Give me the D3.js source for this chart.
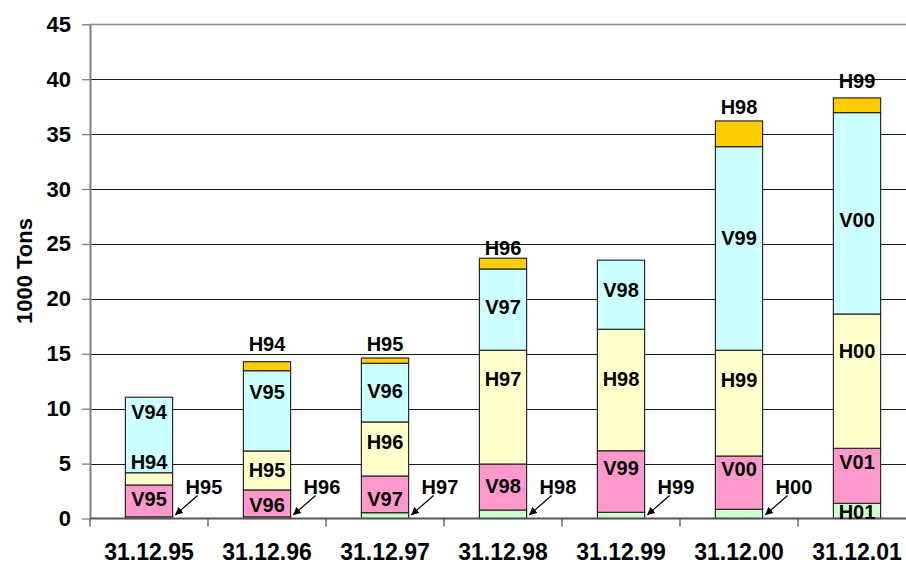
<!DOCTYPE html>
<html>
<head>
<meta charset="utf-8">
<script src="https://cdn.jsdelivr.net/npm/d3@7"></script>
<style>
    body { margin: 0; background: #fff; }
    svg { display: block; font-family: "Liberation Sans", Arial, sans-serif; font-weight: bold; }
</style>
</head>
<body>
<svg id="grafico" width="906" height="565"></svg>
<script>

// dates on the x axis
const categories = ["31.12.95", "31.12.96", "31.12.97", "31.12.98", "31.12.99", "31.12.00", "31.12.01"];

// stacked segments, bottom to top (1000 tons)
const greenH = [0.15, 0.15, 0.53, 0.77, 0.56, 0.84, 1.38];
const pinkV = [2.90, 2.45, 3.34, 4.19, 5.61, 4.85, 5.01];
const yellowH = [1.12, 3.55, 4.92, 10.36, 11.06, 9.63, 12.23];
const cyanV = [6.87, 7.31, 5.34, 7.40, 6.29, 18.54, 18.34];
const orangeH = [0, 0.82, 0.49, 0.98, 0, 2.34, 1.34];

const yTicks = [0, 5, 10, 15, 20, 25, 30, 35, 40, 45];

// text labels on the bars (value = height where the text sits)
const barLabels = [
    { cat: "31.12.95", v: 9.7, text: "V94" },
    { cat: "31.12.95", v: 5.1, text: "H94" },
    { cat: "31.12.95", v: 1.8, text: "V95" },
    { cat: "31.12.96", v: 15.9, text: "H94" },
    { cat: "31.12.96", v: 11.55, text: "V95" },
    { cat: "31.12.96", v: 4.4, text: "H95" },
    { cat: "31.12.96", v: 1.23, text: "V96" },
    { cat: "31.12.97", v: 15.9, text: "H95" },
    { cat: "31.12.97", v: 11.63, text: "V96" },
    { cat: "31.12.97", v: 6.97, text: "H96" },
    { cat: "31.12.97", v: 1.82, text: "V97" },
    { cat: "31.12.98", v: 24.65, text: "H96" },
    { cat: "31.12.98", v: 19.3, text: "V97" },
    { cat: "31.12.98", v: 12.7, text: "H97" },
    { cat: "31.12.98", v: 2.93, text: "V98" },
    { cat: "31.12.99", v: 20.8, text: "V98" },
    { cat: "31.12.99", v: 12.7, text: "H98" },
    { cat: "31.12.99", v: 4.57, text: "V99" },
    { cat: "31.12.00", v: 37.5, text: "H98" },
    { cat: "31.12.00", v: 25.5, text: "V99" },
    { cat: "31.12.00", v: 12.64, text: "H99" },
    { cat: "31.12.00", v: 4.5, text: "V00" },
    { cat: "31.12.01", v: 39.8, text: "H99" },
    { cat: "31.12.01", v: 27.2, text: "V00" },
    { cat: "31.12.01", v: 15.27, text: "H00" },
    { cat: "31.12.01", v: 5.15, text: "V01" },
    { cat: "31.12.01", v: 0.62, text: "H01" }
];

// labels with an arrow pointing to the thin bottom segment
const calloutCats = ["31.12.95", "31.12.96", "31.12.97", "31.12.98", "31.12.99", "31.12.00"];
const calloutTexts = ["H95", "H96", "H97", "H98", "H99", "H00"];

const seriesKeys = ["greenH", "pinkV", "yellowH", "cyanV", "orangeH"];
const colors = {
    greenH: "#ccffcc",
    pinkV: "#ff99cc",
    yellowH: "#ffffcc",
    cyanV: "#ccffff",
    orangeH: "#ffcc00"
};

const table = categories.map((c, i) => ({
    cat: c,
    greenH: greenH[i],
    pinkV: pinkV[i],
    yellowH: yellowH[i],
    cyanV: cyanV[i],
    orangeH: orangeH[i]
}));

desenharGrafico();

function desenharGrafico() {
    const svg = d3.select("#grafico");

    const xScale = d3.scaleBand()
        .domain(categories)
        .range([90, 916])
        .paddingInner(0.6)
        .paddingOuter(0.3);

    const yScale = d3.scaleLinear()
        .domain([0, 45])
        .range([518.5, 24.3]);

    // gridlines
    svg.append("g")
        .selectAll("line")
        .data(yTicks.filter(t => t > 0))
        .enter()
        .append("line")
        .attr("x1", 90)
        .attr("x2", 906)
        .attr("y1", d => Math.round(yScale(d)) + 0.5)
        .attr("y2", d => Math.round(yScale(d)) + 0.5)
        .attr("stroke", d => d === 45 ? "#8a8a8a" : "#1a1a1a")
        .attr("stroke-width", d => d === 45 ? 1.6 : 1);

    // stacked bars
    const stacked = d3.stack().keys(seriesKeys)(table);

    svg.append("g")
        .selectAll("g")
        .data(stacked)
        .enter()
        .append("g")
        .attr("fill", d => colors[d.key])
        .selectAll("rect")
        .data(d => d.filter(s => s[1] - s[0] > 0))
        .enter()
        .append("rect")
        .attr("x", d => xScale(d.data.cat))
        .attr("y", d => yScale(d[1]))
        .attr("width", xScale.bandwidth())
        .attr("height", d => yScale(d[0]) - yScale(d[1]))
        .attr("stroke", "#2a2a2a")
        .attr("stroke-width", 1.2);

    // y axis
    const yAxis = d3.axisLeft(yScale)
        .tickValues(yTicks)
        .tickSize(8)
        .tickSizeOuter(0)
        .tickPadding(11);

    const gy = svg.append("g")
        .attr("transform", "translate(90, 0)")
        .call(yAxis);
    gy.select(".domain").attr("stroke", "#808080").attr("stroke-width", 2);
    gy.selectAll(".tick line").attr("stroke", "#808080").attr("stroke-width", 1.3);
    gy.selectAll("text")
        .attr("font-size", 22)
        .attr("font-weight", "bold")
        .attr("font-family", "Liberation Sans, Arial, sans-serif")
        .attr("fill", "#000");

    // x axis (labels centred, ticks on the category borders)
    const xAxis = d3.axisBottom(xScale)
        .tickSize(0)
        .tickSizeOuter(0)
        .tickPadding(25);

    const gx = svg.append("g")
        .attr("transform", `translate(0, ${yScale(0)})`)
        .call(xAxis);
    gx.select(".domain").remove();
    gx.append("line")
        .attr("x1", 90)
        .attr("x2", 906)
        .attr("stroke", "#555")
        .attr("stroke-width", 2);
    gx.selectAll(".borda")
        .data(d3.range(categories.length + 1))
        .enter()
        .append("line")
        .attr("class", "borda")
        .attr("x1", i => 90 + i * xScale.step())
        .attr("x2", i => 90 + i * xScale.step())
        .attr("y1", 0)
        .attr("y2", 8)
        .attr("stroke", "#555")
        .attr("stroke-width", 1.3);
    gx.selectAll("text")
        .attr("font-size", 23)
        .attr("font-weight", "bold")
        .attr("font-family", "Liberation Sans, Arial, sans-serif")
        .attr("fill", "#000");

    // axis title
    svg.append("text")
        .attr("transform", "translate(24, 271) rotate(-90)")
        .attr("text-anchor", "middle")
        .attr("dominant-baseline", "central")
        .attr("font-size", 22)
        .text("1000 Tons");

    // labels on the bars
    svg.append("g")
        .selectAll("text")
        .data(barLabels)
        .enter()
        .append("text")
        .attr("x", d => xScale(d.cat) + xScale.bandwidth() / 2)
        .attr("y", d => yScale(d.v))
        .attr("text-anchor", "middle")
        .attr("dominant-baseline", "central")
        .attr("font-size", 20)
        .attr("fill", "#000")
        .text(d => d.text);

    // arrow head
    svg.append("defs")
        .append("marker")
        .attr("id", "seta")
        .attr("viewBox", "0 0 10 10")
        .attr("refX", 9)
        .attr("refY", 5)
        .attr("markerWidth", 8)
        .attr("markerHeight", 8)
        .attr("markerUnits", "userSpaceOnUse")
        .attr("orient", "auto")
        .append("path")
        .attr("d", "M0,0 L10,5 L0,10 Z")
        .attr("fill", "#000");

    const callouts = calloutCats.map((c, i) => ({ cat: c, text: calloutTexts[i] }));
    const right = d => xScale(d.cat) + xScale.bandwidth();

    const gc = svg.append("g");
    gc.selectAll("line")
        .data(callouts)
        .enter()
        .append("line")
        .attr("x1", d => right(d) + 25)
        .attr("y1", d => yScale(2.1))
        .attr("x2", d => right(d) + 3)
        .attr("y2", d => yScale(0.35))
        .attr("stroke", "#000")
        .attr("stroke-width", 1.2)
        .attr("marker-end", "url(#seta)");
    gc.selectAll("text")
        .data(callouts)
        .enter()
        .append("text")
        .attr("x", d => right(d) + 13)
        .attr("y", d => yScale(2.2))
        .attr("font-size", 20)
        .attr("fill", "#000")
        .text(d => d.text);
}
</script>
</body>
</html>
